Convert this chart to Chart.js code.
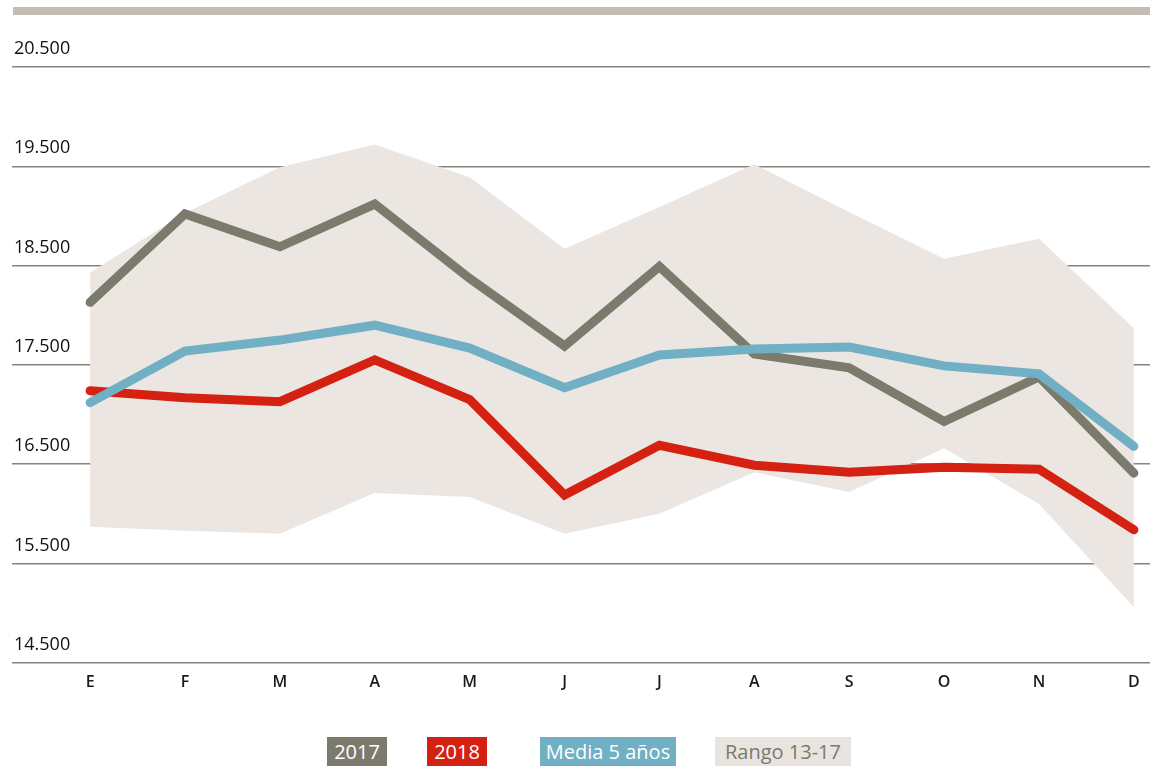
<!DOCTYPE html>
<html lang="es">
<head>
    <meta charset="UTF-8">
    <meta name="viewport" content="width=device-width, initial-scale=1.0">
    <title>Evolución mensual 2017-2018</title>
    <script src="https://cdn.jsdelivr.net/npm/chart.js"></script>
    <style>
        body { margin: 0; background: #fff; }
        .lienzo { position: relative; width: 1154px; height: 766px; overflow: hidden; }
        .barra { position: absolute; left: 13px; top: 7px; width: 1137px; height: 8px; background: #c5bcb3; }
        .grafico { position: absolute; left: 0; top: 0; width: 1154px; height: 710px; }
        .leyenda span {
            position: absolute; top: 737px; height: 34px; line-height: 30px;
            font-family: 'Open Sans', sans-serif; font-size: 20px; color: #fff; text-align: center;
        }
    </style>
</head>
<body>
<div class="lienzo">
    <div class="barra"></div>
    <div class="grafico"><canvas id="miGrafico"></canvas></div>
    <div class="leyenda">
        <span style="left:327px; width:60px; background:#7b7a6d;">2017</span>
        <span style="left:427px; width:60px; background:#d52112;">2018</span>
        <span style="left:540px; width:136px; background:#70afc4;">Media 5 años</span>
        <span style="left:715px; width:136px; background:#e9e4e0; color:#7b7a6d;">Rango 13-17</span>
    </div>
</div>

<script>
    // datos
    const meses = ['E', 'F', 'M', 'A', 'M', 'J', 'J', 'A', 'S', 'O', 'N', 'D'];
    const serie2017 = [18130, 19020, 18690, 19120, 18370, 17690, 18490, 17610, 17470, 16930, 17380, 16410];
    const serie2018 = [17240, 17170, 17130, 17550, 17150, 16190, 16690, 16490, 16420, 16470, 16450, 15840];
    const media5 = [17120, 17640, 17750, 17900, 17670, 17270, 17600, 17660, 17680, 17490, 17410, 16680];
    const rangoMax = [18430, 19030, 19490, 19720, 19390, 18670, 19090, 19520, 19040, 18570, 18770, 17870];
    const rangoMin = [15870, 15830, 15800, 16210, 16170, 15800, 16000, 16420, 16220, 16660, 16100, 15060];
    const ticksY = [14500, 15500, 16500, 17500, 18500, 19500, 20500];

    function pares(valores) {
        return valores.map((v, i) => ({ x: i, y: v }));
    }

    function formato(v) {
        return String(v).replace(/\B(?=(\d{3})+(?!\d))/g, '.');
    }

    function linea(etiqueta, valores, color, orden) {
        return {
            label: etiqueta,
            data: pares(valores),
            borderColor: color,
            borderWidth: 9,
            borderCapStyle: 'round',
            borderJoinStyle: 'miter',
            pointRadius: 0,
            fill: false,
            tension: 0,
            order: orden
        };
    }

    const ctx = document.getElementById('miGrafico').getContext('2d');

    const miGrafico = new Chart(ctx, {
        type: 'line',
        data: {
            datasets: [
                { label: 'Rango máx', data: pares(rangoMax), borderWidth: 0, pointRadius: 0, fill: false, order: 6 },
                { label: 'Rango 13-17', data: pares(rangoMin), borderWidth: 0, pointRadius: 0, fill: '-1', backgroundColor: '#ebe6e2', order: 5 },
                linea('2017', serie2017, '#7b7a6d', 3),
                linea('2018', serie2018, '#d52112', 2),
                linea('Media 5 años', media5, '#70afc4', 1)
            ]
        },
        options: {
            responsive: true,
            maintainAspectRatio: false,
            animation: false,
            layout: {
                padding: { top: 67, left: 8, right: 4, bottom: 8 }
            },
            plugins: {
                legend: { display: false },
                tooltip: { enabled: false }
            },
            scales: {
                x: {
                    type: 'linear',
                    min: -0.823,
                    max: 11.17,
                    afterBuildTicks: (escala) => {
                        escala.ticks = meses.map((m, i) => ({ value: i }));
                    },
                    grid: { display: false, drawTicks: false },
                    border: { display: false },
                    ticks: {
                        autoSkip: false,
                        maxRotation: 0,
                        padding: 10,
                        color: '#1a1a1a',
                        font: { family: 'Open Sans', size: 16, weight: '600' },
                        callback: (v) => meses[v]
                    }
                },
                y: {
                    min: 14500,
                    max: 20500,
                    afterBuildTicks: (escala) => {
                        escala.ticks = ticksY.map(v => ({ value: v }));
                    },
                    grid: { color: '#85857a', lineWidth: 1.5, drawTicks: false },
                    border: { display: false },
                    ticks: {
                        mirror: true,
                        padding: 2,
                        labelOffset: -18,
                        color: '#111',
                        font: { family: 'Open Sans', size: 18, weight: '500' },
                        callback: (v) => formato(v)
                    }
                }
            }
        }
    });
</script>
</body>
</html>
